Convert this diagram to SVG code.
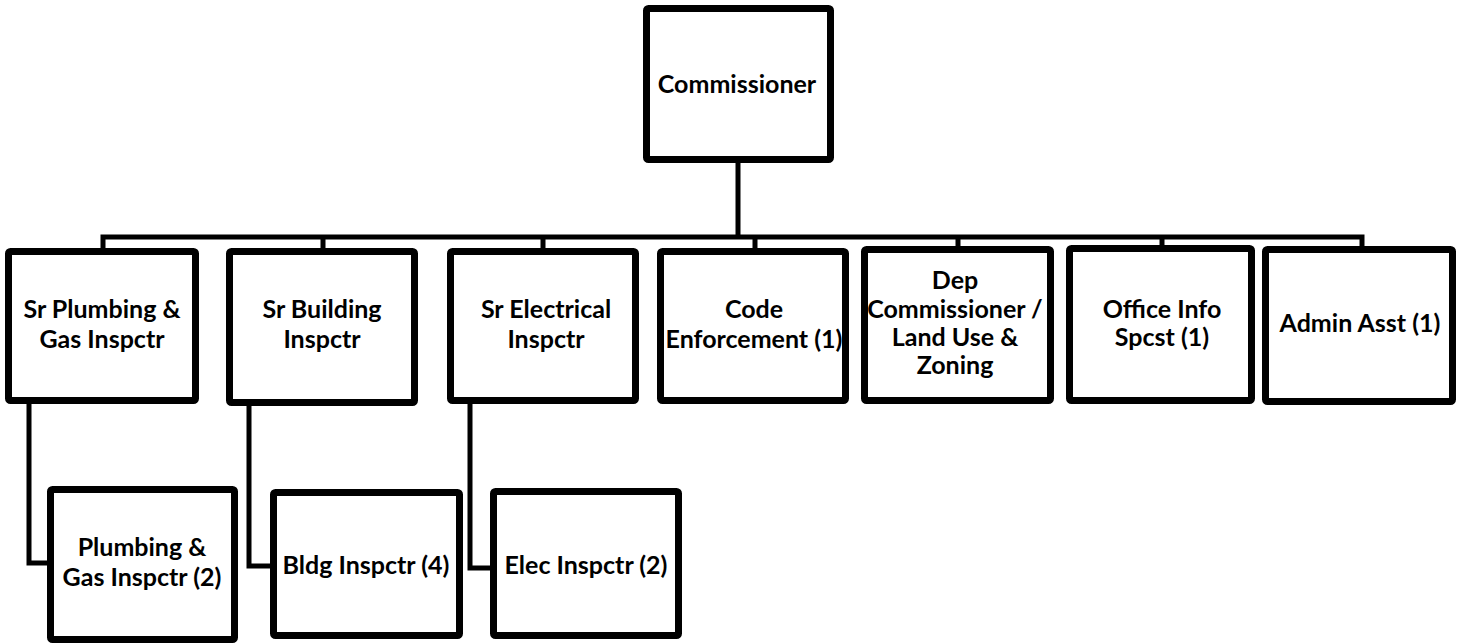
<svg xmlns="http://www.w3.org/2000/svg" width="1460" height="644" viewBox="0 0 1460 644">
<style>
.box{fill:#fff;stroke:#000;stroke-width:7;}
.con{fill:none;stroke:#000;stroke-width:5;stroke-linejoin:miter;}
.t{font-family:Lato,"Open Sans",sans-serif;font-weight:bold;font-size:25px;fill:#000;text-anchor:middle;}
</style>
<rect width="1460" height="644" fill="#fff"/>
<g id="connectors">
<path class="con" d="M738 163V237"/>
<path class="con" d="M103 248V237H1362V246"/>
<path class="con" d="M323 237V248M543 237V248M755 237V248M958 237V246M1162 237V245"/>
<path class="con" d="M29 404V563H47"/>
<path class="con" d="M249 406V566H270"/>
<path class="con" d="M470 404V568H490"/>
</g>
<g id="commissioner"><rect class="box" x="646.5" y="8.5" width="184" height="151" rx="2"/><text class="t" x="737" y="93">Commissioner</text></g>
<g id="sr-plumbing"><rect class="box" x="8.5" y="251.5" width="187" height="149" rx="2"/><text class="t" x="102" y="318">Sr Plumbing &amp;</text><text class="t" x="102" y="348">Gas Inspctr</text></g>
<g id="sr-building"><rect class="box" x="229.5" y="251.5" width="185" height="151" rx="2"/><text class="t" x="322" y="318">Sr Building</text><text class="t" x="322" y="348">Inspctr</text></g>
<g id="sr-electrical"><rect class="box" x="450.5" y="251.5" width="185" height="149" rx="2"/><text class="t" x="546" y="318">Sr Electrical</text><text class="t" x="546" y="348">Inspctr</text></g>
<g id="code-enforcement"><rect class="box" x="660.5" y="251.5" width="185" height="149" rx="2"/><text class="t" x="754" y="318">Code</text><text class="t" x="754" y="348">Enforcement (1)</text></g>
<g id="dep-commissioner"><rect class="box" x="864.5" y="249.5" width="186" height="151" rx="2"/><text class="t" x="955" y="289">Dep</text><text class="t" x="955" y="318">Commissioner /</text><text class="t" x="955" y="346">Land Use &amp;</text><text class="t" x="955" y="374">Zoning</text></g>
<g id="office-info"><rect class="box" x="1069.5" y="248.5" width="182" height="152" rx="2"/><text class="t" x="1162" y="318">Office Info</text><text class="t" x="1162" y="346">Spcst (1)</text></g>
<g id="admin-asst"><rect class="box" x="1265.5" y="249.5" width="187" height="152" rx="2"/><text class="t" x="1360" y="332">Admin Asst (1)</text></g>
<g id="plumbing-gas"><rect class="box" x="50.5" y="489.5" width="184" height="150" rx="2"/><text class="t" x="142" y="556">Plumbing &amp;</text><text class="t" x="142" y="586">Gas Inspctr (2)</text></g>
<g id="bldg-inspctr"><rect class="box" x="273.5" y="492.5" width="186" height="143" rx="2"/><text class="t" x="366" y="574">Bldg Inspctr (4)</text></g>
<g id="elec-inspctr"><rect class="box" x="493.5" y="491.5" width="185" height="144" rx="2"/><text class="t" x="586" y="574">Elec Inspctr (2)</text></g>
</svg>
